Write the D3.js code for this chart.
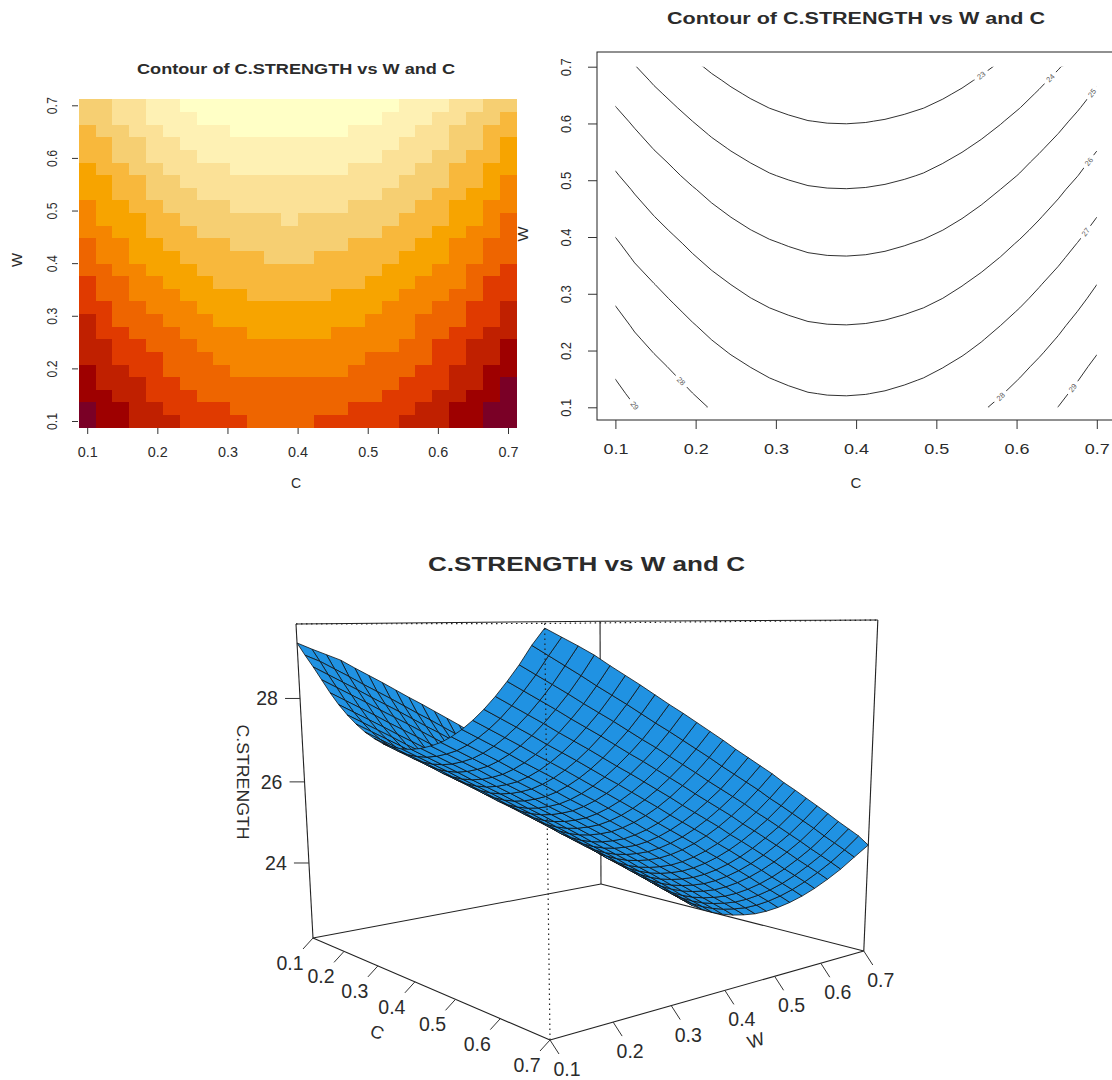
<!DOCTYPE html>
<html>
<head>
<meta charset="utf-8">
<script src="https://cdn.jsdelivr.net/npm/d3@7"></script>
<style>
    body { margin: 0; background: #ffffff; }
    text { font-family: "Liberation Sans", Arial, sans-serif; fill: #2b2b2b; }
</style>
</head>
<body>
<div id="chart"></div>
<script>
let cValues = [0.100, 0.124, 0.148, 0.172, 0.196, 0.220, 0.244, 0.268, 0.292, 0.316, 0.340, 0.364, 0.388,
    0.412, 0.436, 0.460, 0.484, 0.508, 0.532, 0.556, 0.580, 0.604, 0.628, 0.652, 0.676, 0.700];
let wValues = [0.100, 0.124, 0.148, 0.172, 0.196, 0.220, 0.244, 0.268, 0.292, 0.316, 0.340, 0.364, 0.388,
    0.412, 0.436, 0.460, 0.484, 0.508, 0.532, 0.556, 0.580, 0.604, 0.628, 0.652, 0.676, 0.700];

// one row per W value (W = 0.1 first), one column per C value
let strength = [
    [29.30,29.02,28.76,28.48,28.20,27.95,27.74,27.56,27.41,27.30,27.21,27.17,27.16,27.18,27.23,27.31,27.41,27.55,27.72,27.92,28.15,28.41,28.70,29.01,29.36,29.66],
    [29.15,28.87,28.57,28.29,28.01,27.76,27.55,27.37,27.22,27.11,27.02,26.98,26.97,26.99,27.04,27.12,27.22,27.36,27.53,27.73,27.96,28.22,28.51,28.82,29.17,29.50],
    [29.01,28.68,28.38,28.10,27.82,27.57,27.36,27.18,27.03,26.92,26.83,26.79,26.78,26.80,26.85,26.93,27.03,27.17,27.34,27.54,27.77,28.03,28.32,28.63,28.98,29.34],
    [28.87,28.49,28.19,27.91,27.63,27.38,27.17,26.99,26.84,26.73,26.64,26.60,26.59,26.61,26.66,26.74,26.84,26.98,27.15,27.35,27.58,27.84,28.13,28.44,28.79,29.17],
    [28.67,28.29,27.99,27.71,27.43,27.18,26.97,26.79,26.64,26.53,26.44,26.40,26.39,26.41,26.46,26.54,26.64,26.78,26.95,27.15,27.38,27.64,27.93,28.24,28.59,28.97],
    [28.48,28.10,27.80,27.52,27.24,26.99,26.78,26.60,26.45,26.34,26.25,26.21,26.20,26.22,26.27,26.35,26.45,26.59,26.76,26.96,27.19,27.45,27.74,28.05,28.40,28.78],
    [28.29,27.91,27.61,27.33,27.05,26.80,26.59,26.41,26.26,26.15,26.06,26.02,26.01,26.03,26.08,26.16,26.26,26.40,26.57,26.77,27.00,27.26,27.55,27.86,28.21,28.59],
    [28.09,27.71,27.41,27.13,26.85,26.60,26.39,26.21,26.06,25.95,25.86,25.82,25.81,25.83,25.88,25.96,26.06,26.20,26.37,26.57,26.80,27.06,27.35,27.66,28.01,28.39],
    [27.89,27.51,27.21,26.93,26.65,26.40,26.19,26.01,25.86,25.75,25.66,25.62,25.61,25.63,25.68,25.76,25.86,26.00,26.17,26.37,26.60,26.86,27.15,27.46,27.81,28.19],
    [27.70,27.32,27.02,26.74,26.46,26.21,26.00,25.82,25.67,25.56,25.47,25.43,25.42,25.44,25.49,25.57,25.67,25.81,25.98,26.18,26.41,26.67,26.96,27.27,27.62,28.00],
    [27.50,27.12,26.82,26.54,26.26,26.01,25.80,25.62,25.47,25.36,25.27,25.23,25.22,25.24,25.29,25.37,25.47,25.61,25.78,25.98,26.21,26.47,26.76,27.07,27.42,27.80],
    [27.30,26.92,26.62,26.34,26.06,25.81,25.60,25.42,25.27,25.16,25.07,25.03,25.02,25.04,25.09,25.17,25.27,25.41,25.58,25.78,26.01,26.27,26.56,26.87,27.22,27.60],
    [27.10,26.72,26.42,26.14,25.86,25.61,25.40,25.22,25.07,24.96,24.87,24.83,24.82,24.84,24.89,24.97,25.07,25.21,25.38,25.58,25.81,26.07,26.36,26.67,27.02,27.40],
    [26.89,26.53,26.21,25.93,25.65,25.40,25.19,25.01,24.86,24.75,24.66,24.62,24.61,24.63,24.68,24.76,24.86,25.00,25.17,25.37,25.60,25.86,26.15,26.46,26.81,27.19],
    [26.69,26.33,26.01,25.73,25.45,25.20,24.99,24.81,24.66,24.55,24.46,24.42,24.41,24.43,24.48,24.56,24.66,24.80,24.97,25.17,25.40,25.66,25.95,26.26,26.61,26.99],
    [26.49,26.13,25.81,25.53,25.25,25.00,24.79,24.61,24.46,24.35,24.26,24.22,24.21,24.23,24.28,24.36,24.46,24.60,24.77,24.97,25.20,25.46,25.75,26.06,26.41,26.79],
    [26.29,25.93,25.61,25.33,25.05,24.80,24.59,24.41,24.26,24.15,24.06,24.02,24.01,24.03,24.08,24.16,24.26,24.40,24.57,24.77,25.00,25.26,25.55,25.86,26.21,26.59],
    [26.07,25.72,25.39,25.11,24.83,24.58,24.37,24.19,24.04,23.93,23.84,23.80,23.79,23.81,23.86,23.94,24.04,24.18,24.35,24.55,24.78,25.04,25.33,25.64,25.99,26.37],
    [25.87,25.52,25.19,24.91,24.63,24.38,24.17,23.99,23.84,23.73,23.64,23.60,23.59,23.61,23.66,23.74,23.84,23.98,24.15,24.35,24.58,24.84,25.13,25.44,25.79,26.17],
    [25.66,25.31,24.98,24.70,24.42,24.17,23.96,23.78,23.63,23.52,23.43,23.39,23.38,23.40,23.45,23.53,23.63,23.77,23.94,24.14,24.37,24.63,24.92,25.23,25.58,25.96],
    [25.45,25.10,24.77,24.49,24.21,23.96,23.75,23.57,23.42,23.31,23.22,23.18,23.17,23.19,23.24,23.32,23.42,23.56,23.73,23.93,24.16,24.42,24.71,25.02,25.37,25.75],
    [25.24,24.89,24.56,24.28,24.00,23.75,23.54,23.36,23.21,23.10,23.01,22.97,22.96,22.98,23.03,23.11,23.21,23.35,23.52,23.72,23.95,24.21,24.50,24.81,25.16,25.54],
    [25.02,24.67,24.34,24.06,23.78,23.53,23.32,23.14,22.99,22.88,22.79,22.75,22.74,22.76,22.81,22.89,22.99,23.13,23.30,23.50,23.73,23.99,24.28,24.59,24.94,25.32],
    [24.81,24.46,24.13,23.85,23.57,23.32,23.11,22.93,22.78,22.67,22.58,22.54,22.53,22.55,22.60,22.68,22.78,22.92,23.09,23.29,23.52,23.78,24.07,24.38,24.73,25.11],
    [24.60,24.25,23.92,23.64,23.36,23.11,22.90,22.72,22.57,22.46,22.37,22.33,22.32,22.34,22.39,22.47,22.57,22.71,22.88,23.08,23.31,23.57,23.86,24.17,24.52,24.90],
    [24.38,24.03,23.70,23.42,23.14,22.89,22.68,22.50,22.35,22.24,22.15,22.11,22.10,22.12,22.17,22.25,22.35,22.49,22.66,22.86,23.09,23.35,23.64,23.95,24.30,24.64]
];

let axisTicks = [0.1, 0.2, 0.3, 0.4, 0.5, 0.6, 0.7];
let strengthTicks = [24, 26, 28];
let heatBreaks = [22.74, 23.38, 24.02, 24.66, 25.30, 25.94, 26.58, 27.22, 27.86, 28.50, 29.14];
let heatColors = ["#ffffc6", "#fef1b4", "#fbe197", "#f6cf72", "#f8b83c", "#f7a400", "#f58500", "#ee6500", "#e03a00", "#c02000", "#9e0000", "#7a0026"];
let contourLevels = [23, 24, 25, 26, 27, 28, 29];
let labelLevels = [23, 24, 25, 26, 27, 28, 28, 29, 29];
let labelC = [0.556, 0.642, 0.694, 0.690, 0.686, 0.182, 0.580, 0.670, 0.124];

let width = 1112;
let height = 1080;
let tickFormat = d3.format(".1f");

let svg = d3.select("#chart")
    .append("svg")
    .attr("width", width)
    .attr("height", height)
    .style("display", "block");

function addText(parent, x, y, label, size, weight, length, rotate) {
    let t = parent.append("text")
        .attr("transform", "translate(" + x + "," + y + ") rotate(" + (rotate || 0) + ")")
        .attr("text-anchor", "middle")
        .attr("font-size", size)
        .attr("font-weight", weight)
        .text(label);
    if (length) {
        t.attr("textLength", length).attr("lengthAdjust", "spacingAndGlyphs");
    }
    return t;
}

function drawAxes(xScale, yScale, axisY, axisX, o) {
    let bottom = svg.append("g")
        .attr("transform", "translate(0," + axisY + ")")
        .call(d3.axisBottom(xScale).tickValues(axisTicks).tickFormat(tickFormat).tickSize(o.tick));
    let left = svg.append("g")
        .attr("transform", "translate(" + axisX + ",0)")
        .call(d3.axisLeft(yScale).tickValues(axisTicks).tickFormat(tickFormat).tickSize(o.tick));
    bottom.select(".domain").remove();
    left.select(".domain").remove();
    svg.selectAll("g.tick line").attr("stroke", "#333333");
    bottom.selectAll("text")
        .attr("y", o.xLabel)
        .attr("dy", 0)
        .attr("font-size", o.size)
        .attr("font-family", "Liberation Sans")
        .attr("textLength", o.xLen)
        .attr("lengthAdjust", "spacingAndGlyphs");
    left.selectAll("text")
        .attr("x", 0)
        .attr("y", 0)
        .attr("dy", 0)
        .attr("text-anchor", "middle")
        .attr("transform", "translate(" + o.yLabel + ",0) rotate(-90)")
        .attr("font-size", o.size)
        .attr("font-family", "Liberation Sans")
        .attr("textLength", o.yLen)
        .attr("lengthAdjust", "spacingAndGlyphs");
}

// left panel, image of the grid
let heatX = d3.scaleLinear().domain([0.1, 0.7]).range([87.2, 508]);
let heatY = d3.scaleLinear().domain([0.1, 0.7]).range([421, 105.3]);
let heatColor = d3.scaleThreshold().domain(heatBreaks).range(heatColors);
let halfStep = (cValues[1] - cValues[0]) / 2;

let cells = [];
wValues.forEach(function (w, j) {
    cValues.forEach(function (c, i) {
        cells.push({ c: c, w: w, z: strength[j][i] });
    });
});

svg.append("g")
    .attr("shape-rendering", "crispEdges")
    .selectAll("rect")
    .data(cells)
    .join("rect")
    .attr("x", d => heatX(d.c - halfStep))
    .attr("y", d => heatY(d.w + halfStep))
    .attr("width", d => heatX(d.c + halfStep) - heatX(d.c - halfStep) + 0.4)
    .attr("height", d => heatY(d.w - halfStep) - heatY(d.w + halfStep) + 0.4)
    .attr("fill", d => heatColor(d.z));

drawAxes(heatX, heatY, 428, 78, { tick: 6, xLabel: 29, yLabel: -21, size: 14, xLen: 20, yLen: 17 });
addText(svg, 296, 74, "Contour of C.STRENGTH vs W and C", 15, "bold", 318);
addText(svg, 296, 488, "C", 14, "normal");
addText(svg, 22, 260, "W", 14, "normal", 14, -90);

// right panel, contour lines
let lineX = d3.scaleLinear().domain([0.1, 0.7]).range([615.4, 1096.8]);
let lineY = d3.scaleLinear().domain([0.1, 0.7]).range([407.3, 66.7]);
let gridX = d3.scaleLinear().domain([0.5, 25.5]).range([lineX(0.1), lineX(0.7)]);
let gridY = d3.scaleLinear().domain([0.5, 25.5]).range([lineY(0.1), lineY(0.7)]);

let contourPath = d3.geoPath(d3.geoTransform({
    point: function (x, y) {
        this.stream.point(gridX(x), gridY(y));
    }
}));

svg.append("clipPath")
    .attr("id", "lineClip")
    .append("rect")
    .attr("x", lineX(0.1))
    .attr("y", lineY(0.7))
    .attr("width", lineX(0.7) - lineX(0.1))
    .attr("height", lineY(0.1) - lineY(0.7));

let contours = d3.contours()
    .size([cValues.length, wValues.length])
    .thresholds(contourLevels)
    .smooth(true)(strength.flat());

svg.append("g")
    .attr("clip-path", "url(#lineClip)")
    .selectAll("path")
    .data(contours)
    .join("path")
    .attr("d", contourPath)
    .attr("fill", "none")
    .attr("stroke", "#1a1a1a")
    .attr("stroke-width", 0.9);

svg.append("rect")
    .attr("x", 597)
    .attr("y", 52)
    .attr("width", 560)
    .attr("height", 368)
    .attr("fill", "none")
    .attr("stroke", "#222222")
    .attr("stroke-width", 1);

drawAxes(lineX, lineY, 420, 597, { tick: 9, xLabel: 33.5, yLabel: -26, size: 15, xLen: 25, yLen: 18 });
addText(svg, 856, 24, "Contour of C.STRENGTH vs W and C", 16, "bold", 378);
addText(svg, 856, 488, "C", 15, "normal");
addText(svg, 528, 234, "W", 15, "normal", 15, -90);

// where a level crosses a column of the grid
function levelInColumn(level, i) {
    for (let j = 0; j < wValues.length - 1; j++) {
        let a = strength[j][i];
        let b = strength[j + 1][i];
        if ((a - level) * (b - level) <= 0) {
            return wValues[j] + (wValues[j + 1] - wValues[j]) * (level - a) / (b - a);
        }
    }
    return null;
}

function labelSpot(level, c) {
    let pos = (c - cValues[0]) / (cValues[1] - cValues[0]);
    let i = Math.floor(pos + 1e-6);
    let frac = pos - i;
    let w = levelInColumn(level, i);
    if (frac > 0.01 && i < cValues.length - 1) {
        w = w + (levelInColumn(level, i + 1) - w) * frac;
    }
    let row = Math.max(0, Math.min(wValues.length - 2, Math.round((w - wValues[0]) / (wValues[1] - wValues[0]))));
    let col = Math.min(i, cValues.length - 2);
    let gx = (strength[row][col + 1] - strength[row][col]) / (lineX(cValues[col + 1]) - lineX(cValues[col]));
    let gy = (strength[row + 1][col] - strength[row][col]) / (lineY(wValues[row + 1]) - lineY(wValues[row]));
    let angle = Math.atan2(-gx, gy) * 180 / Math.PI;
    if (angle > 90) angle -= 180;
    if (angle < -90) angle += 180;
    return { level: level, x: lineX(c), y: lineY(w), angle: angle };
}

let labelGroups = svg.append("g")
    .selectAll("g")
    .data(labelLevels.map((level, k) => labelSpot(level, labelC[k])))
    .join("g")
    .attr("transform", d => "translate(" + d.x + "," + d.y + ") rotate(" + d.angle + ")");

labelGroups.append("rect")
    .attr("x", -8)
    .attr("y", -4)
    .attr("width", 16)
    .attr("height", 8)
    .attr("fill", "#ffffff");

labelGroups.append("text")
    .attr("y", 2.7)
    .attr("text-anchor", "middle")
    .attr("font-size", 7.5)
    .style("fill", "#5a5a5a")
    .text(d => d.level);

// bottom panel, perspective view of the same grid
let uScale = d3.scaleLinear().domain([0.1, 0.7]).range([0, 1]);
let vScale = d3.scaleLinear().domain([0.1, 0.7]).range([0, 1]);
let tScale = d3.scaleLinear().domain([22.1, 29.74]).range([0, 1]);

function depth(c, w, z) {
    return -0.246 * uScale(c) + 0.1956 * vScale(w) - 0.05215 * tScale(z) + 1;
}

function project(c, w, z) {
    let u = uScale(c);
    let v = vScale(w);
    let t = tScale(z);
    let d = depth(c, w, z);
    return [
        (101.7 * u + 405.55 * v - 32.44 * t + 313) / d,
        (-153.84 * u + 118.91 * v - 346.6 * t + 938) / d
    ];
}

let lineGen = d3.line();
let bottomZ = tScale.domain()[0];
let topZ = tScale.domain()[1];

function boxEdge(parent, from, to, dotted) {
    parent.append("path")
        .attr("d", lineGen([project(from[0], from[1], from[2]), project(to[0], to[1], to[2])]))
        .attr("fill", "none")
        .attr("stroke", "#222222")
        .attr("stroke-width", dotted ? 1.2 : 1.1)
        .attr("stroke-dasharray", dotted ? "1.5 3.5" : null);
}

let boxBack = svg.append("g");
boxEdge(boxBack, [0.1, 0.7, bottomZ], [0.1, 0.1, bottomZ]);
boxEdge(boxBack, [0.1, 0.7, bottomZ], [0.7, 0.7, bottomZ]);
boxEdge(boxBack, [0.1, 0.7, bottomZ], [0.1, 0.7, topZ]);
boxEdge(boxBack, [0.1, 0.7, topZ], [0.1, 0.1, topZ]);
boxEdge(boxBack, [0.1, 0.7, topZ], [0.7, 0.7, topZ]);

let facets = [];
for (let j = 0; j < wValues.length - 1; j++) {
    for (let i = 0; i < cValues.length - 1; i++) {
        let corners = [[i, j], [i + 1, j], [i + 1, j + 1], [i, j + 1]];
        facets.push({
            points: corners.map(k => project(cValues[k[0]], wValues[k[1]], strength[k[1]][k[0]])),
            far: d3.mean(corners, k => depth(cValues[k[0]], wValues[k[1]], strength[k[1]][k[0]]))
        });
    }
}
facets.sort((a, b) => b.far - a.far);

svg.append("g")
    .selectAll("path")
    .data(facets)
    .join("path")
    .attr("d", d => lineGen(d.points) + "Z")
    .attr("fill", "#2092e2")
    .attr("stroke", "#101010")
    .attr("stroke-width", 0.8)
    .attr("stroke-linejoin", "round");

let boxFront = svg.append("g");
boxEdge(boxFront, [0.1, 0.1, bottomZ], [0.7, 0.1, bottomZ]);
boxEdge(boxFront, [0.7, 0.1, bottomZ], [0.7, 0.7, bottomZ]);
boxEdge(boxFront, [0.1, 0.1, bottomZ], [0.1, 0.1, topZ]);
boxEdge(boxFront, [0.7, 0.7, bottomZ], [0.7, 0.7, topZ]);
boxEdge(boxFront, [0.7, 0.1, bottomZ], [0.7, 0.1, topZ], true);
boxEdge(boxFront, [0.1, 0.1, topZ], [0.7, 0.1, topZ], true);
boxEdge(boxFront, [0.7, 0.1, topZ], [0.7, 0.7, topZ], true);

let perspTicks = svg.append("g");

function perspTick(spot, label, tickDx, tickDy, textDx, textDy) {
    perspTicks.append("line")
        .attr("x1", spot[0])
        .attr("y1", spot[1])
        .attr("x2", spot[0] + tickDx)
        .attr("y2", spot[1] + tickDy)
        .attr("stroke", "#333333")
        .attr("stroke-width", 1);
    addText(perspTicks, spot[0] + textDx, spot[1] + textDy + 7, label, 19.5, "normal");
}

strengthTicks.forEach(function (z) {
    perspTick(project(0.1, 0.1, z), z, -15, 0, -33, 0);
});
axisTicks.forEach(function (c) {
    perspTick(project(c, 0.1, bottomZ), tickFormat(c), -10, 11, -23, 25);
});
axisTicks.forEach(function (w) {
    perspTick(project(0.7, w, bottomZ), tickFormat(w), 9, 14, 17, 29);
});

let cTitle = project(0.4, 0.1, bottomZ);
let wTitle = project(0.7, 0.4, bottomZ);
addText(svg, cTitle[0] - 40, cTitle[1] + 56, "C", 18, "normal", null, 22);
addText(svg, wTitle[0] + 33, wTitle[1] + 56, "W", 18, "normal", null, -18);
addText(svg, 237, 782, "C.STRENGTH", 17, "normal", 115, 90);
addText(svg, 586.5, 571, "C.STRENGTH vs W and C", 20, "bold", 317);
</script>
</body>
</html>
